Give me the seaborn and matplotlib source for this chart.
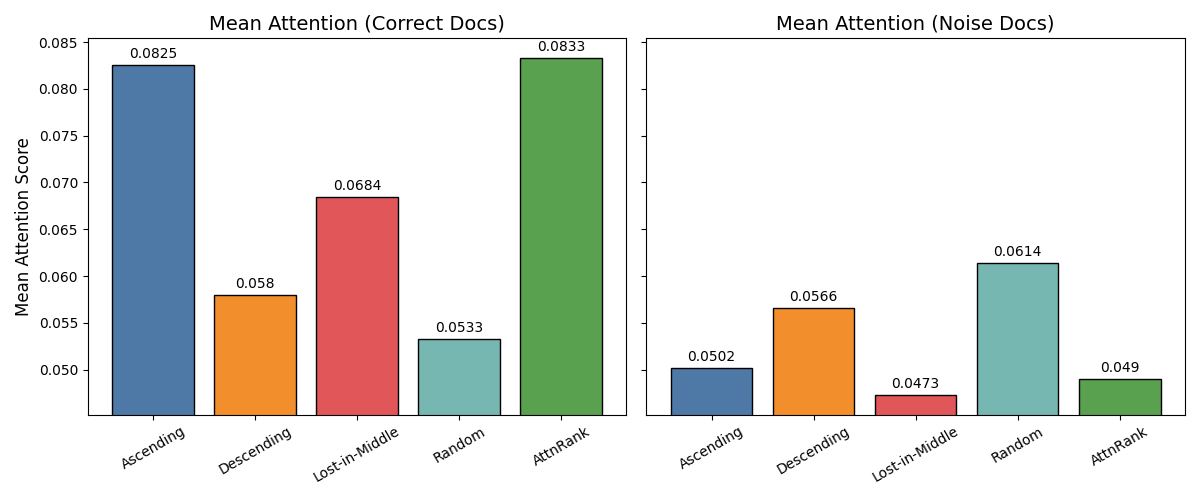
import numpy as np
import pandas as pd
import matplotlib
matplotlib.use("Agg")
import matplotlib.pyplot as plt
import seaborn as sns

# data
orders = ["Ascending", "Descending", "Lost-in-Middle", "Random", "AttnRank"]
correct_scores = [0.0825, 0.058, 0.0684, 0.0533, 0.0833]
noise_scores = [0.0502, 0.0566, 0.0473, 0.0614, 0.049]
colors = ["#4e79a7", "#f28e2b", "#e15759", "#76b7b2", "#59a14f"]

plt.rcParams['font.family'] = ['DejaVu Sans']

fig, axes = plt.subplots(1, 2, figsize=(12, 5), dpi=100, sharey=True)

panels = [("Mean Attention (Correct Docs)", correct_scores),
          ("Mean Attention (Noise Docs)", noise_scores)]

n = len(orders)
pad = 0.05 * (n - 1 + 0.8)  # matplotlib-style x margin around the bars

for ax, (title, vals) in zip(axes, panels):
    df = pd.DataFrame({"Order": orders, "Score": vals})
    sns.barplot(data=df, x="Order", y="Score", hue="Order", palette=colors,
                edgecolor="black", linewidth=1, width=0.8, legend=False,
                saturation=1, ax=ax)
    for cont in ax.containers:
        ax.bar_label(cont, labels=[f"{v:g}" for v in cont.datavalues],
                     padding=3, fontsize=10)
    ax.set_title(title, fontsize=14)
    ax.set_xlabel("")
    ax.set_ylabel("")
    ax.tick_params(axis="x", rotation=30)
    ax.set_xlim(-0.4 - pad, n - 1 + 0.4 + pad)

axes[0].set_ylabel("Mean Attention Score", fontsize=12)
axes[0].set_ylim(0.0452, 0.0854)
axes[1].tick_params(axis="y", labelleft=False)

plt.tight_layout()
plt.savefig("out.png")
